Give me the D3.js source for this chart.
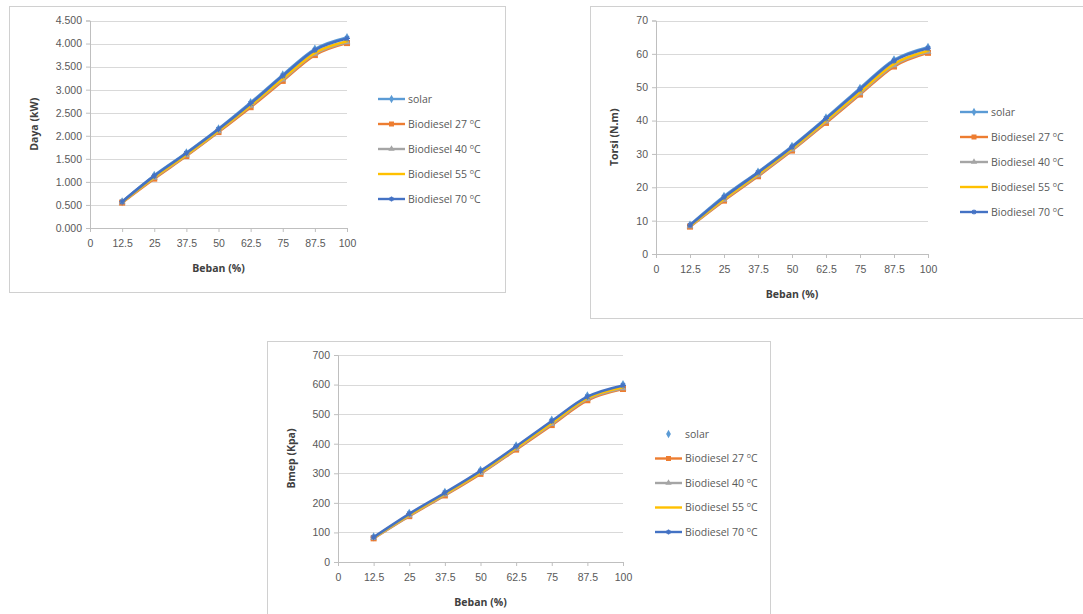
<!DOCTYPE html>
<html><head><meta charset="utf-8">
<script src="https://cdn.jsdelivr.net/npm/d3@7"></script>
<style>body{margin:0;background:#fff;}svg{display:block;font-family:"Open Sans","Liberation Sans",sans-serif;}</style>
</head><body>
<svg id="c" width="1083" height="614"></svg>
<script>
const loads = [12.5, 25, 37.5, 50, 62.5, 75, 87.5, 100];
const xTicks = [0, 12.5, 25, 37.5, 50, 62.5, 75, 87.5, 100];
const seriesNames = ["solar", "Biodiesel 27", "Biodiesel 40", "Biodiesel 55", "Biodiesel 70"];

const dayaSolar = [0.57, 1.14, 1.63, 2.15, 2.72, 3.32, 3.88, 4.13];
const daya27 = [0.55, 1.07, 1.56, 2.08, 2.62, 3.19, 3.75, 4.01];
const daya40 = [0.56, 1.09, 1.58, 2.10, 2.65, 3.22, 3.78, 4.03];
const daya55 = [0.56, 1.10, 1.59, 2.11, 2.66, 3.24, 3.80, 4.05];
const daya70 = [0.57, 1.13, 1.62, 2.14, 2.70, 3.30, 3.86, 4.11];
const dayaTicks = [0, 0.5, 1, 1.5, 2, 2.5, 3, 3.5, 4, 4.5];

const torsiSolar = [8.7, 17.3, 24.6, 32.3, 40.8, 49.7, 58.2, 62.0];
const torsi27 = [8.2, 16.0, 23.3, 31.0, 39.3, 47.8, 56.2, 60.3];
const torsi40 = [8.3, 16.3, 23.6, 31.3, 39.7, 48.2, 56.6, 60.6];
const torsi55 = [8.4, 16.5, 23.9, 31.6, 40.0, 48.6, 57.0, 60.9];
const torsi70 = [8.6, 17.0, 24.4, 32.1, 40.6, 49.4, 57.9, 61.7];
const torsiTicks = [0, 10, 20, 30, 40, 50, 60, 70];

const bmepSolar = [85, 165, 236, 310, 393, 480, 562, 600];
const bmep27 = [80, 155, 225, 298, 380, 463, 547, 585];
const bmep40 = [81, 157, 228, 301, 383, 467, 551, 588];
const bmep55 = [82, 159, 230, 303, 386, 470, 554, 591];
const bmep70 = [84, 163, 234, 308, 391, 477, 559, 597];
const bmepTicks = [0, 100, 200, 300, 400, 500, 600, 700];

const colors = ["#5B9BD5", "#ED7D31", "#A5A5A5", "#FFC000", "#4472C4"];
const markers = ["diamond", "square", "triangle", "none", "star"];

const svg = d3.select("#c");

function marker(g, type, x, y, color, s) {
  if (type === "diamond") g.append("path").attr("d", d3.symbol(d3.symbolDiamond, s * 4)()).attr("transform", `translate(${x},${y})`).attr("fill", color);
  else if (type === "square") g.append("rect").attr("x", x - s / 2).attr("y", y - s / 2).attr("width", s).attr("height", s).attr("fill", color);
  else if (type === "triangle") g.append("path").attr("d", d3.symbol(d3.symbolTriangle, s * 3.5)()).attr("transform", `translate(${x},${y})`).attr("fill", color);
  else if (type === "star") {
    const r = s / 2;
    g.append("path").attr("d", `M${x-r},${y}H${x+r}M${x},${y-r}V${y+r}M${x-r*0.7},${y-r*0.7}L${x+r*0.7},${y+r*0.7}M${x-r*0.7},${y+r*0.7}L${x+r*0.7},${y-r*0.7}`)
      .attr("stroke", color).attr("stroke-width", 1.1);
  }
}

function chart(cfg) {
  const g = svg.append("g");
  g.append("rect").attr("x", cfg.box[0] + 0.5).attr("y", cfg.box[1] + 0.5).attr("width", cfg.box[2]).attr("height", cfg.box[3])
    .attr("fill", "#fff").attr("stroke", "#D0D0D0");
  const x = d3.scaleLinear().domain([0, 100]).range([cfg.x0, cfg.x1]);
  const y = d3.scaleLinear().domain([0, cfg.ticks[cfg.ticks.length - 1]]).range([cfg.y0, cfg.y1]);
  g.append("g").selectAll("line").data(cfg.ticks.slice(1)).join("line")
    .attr("x1", cfg.x0).attr("x2", cfg.x1).attr("y1", d => Math.round(y(d)) + 0.5).attr("y2", d => Math.round(y(d)) + 0.5)
    .attr("stroke", "#D9D9D9").attr("stroke-width", 1.2);
  const ya = g.append("g").attr("transform", `translate(${cfg.x0},0)`)
    .call(d3.axisLeft(y).tickValues(cfg.ticks).tickFormat(cfg.fmt).tickSize(4).tickPadding(4));
  ya.select(".domain").attr("stroke", "#BFBFBF");
  ya.selectAll(".tick line").attr("stroke", "#BFBFBF");
  ya.selectAll("text").attr("fill", "#595959").style("font-size", "10.5px");
  const xa = g.append("g").attr("transform", `translate(0,${cfg.y0})`)
    .call(d3.axisBottom(x).tickValues(xTicks).tickFormat(d3.format("")).tickSize(4).tickPadding(8));
  xa.select(".domain").attr("stroke", "#BFBFBF");
  xa.selectAll(".tick line").attr("stroke", "#BFBFBF");
  xa.selectAll("text").attr("fill", "#595959").style("font-size", "10.5px");
  g.append("text").attr("x", (cfg.x0 + cfg.x1) / 2).attr("y", cfg.y0 + 44).attr("text-anchor", "middle")
    .attr("fill", "#404040").style("font-size", "10.5px").style("font-weight", "bold").text("Beban (%)");
  g.append("text").attr("transform", `translate(${cfg.ylabX},${(cfg.y0 + cfg.y1) / 2}) rotate(-90)`).attr("text-anchor", "middle")
    .attr("fill", "#404040").style("font-size", "10.5px").style("font-weight", "bold").text(cfg.ylabel);
  const line = d3.line().x((d, i) => x(loads[i])).y(d => y(d)).curve(d3.curveMonotoneX);
  cfg.series.forEach((vals, si) => {
    const sg = g.append("g");
    if (!(si === 0 && cfg.solarNoLine)) {
      sg.append("path").attr("d", line(vals)).attr("fill", "none").attr("stroke", colors[si]).attr("stroke-width", 2.6)
        .attr("stroke-linejoin", "round").attr("stroke-linecap", "round");
    }
    vals.forEach((v, i) => marker(sg, markers[si], x(loads[i]), y(v), colors[si], 6));
  });
  seriesNames.forEach((name, si) => {
    const ly = cfg.legY + si * cfg.legStep;
    const lg = g.append("g");
    if (si === 0 && cfg.solarNoLine) {
      marker(lg, "diamond", (cfg.legX0 + cfg.legX1) / 2, ly, colors[0], 5);
    } else {
      lg.append("line").attr("x1", cfg.legX0).attr("x2", cfg.legX1).attr("y1", ly).attr("y2", ly)
        .attr("stroke", colors[si]).attr("stroke-width", 2.4);
      marker(lg, markers[si], (cfg.legX0 + cfg.legX1) / 2, ly, colors[si], 5);
    }
    const t = lg.append("text").attr("x", cfg.legX1 + 3).attr("y", ly + 3.8).attr("fill", "#595959").style("font-size", "10.5px");
    if (si === 0) t.text(name);
    else {
      t.append("tspan").text(name + " ");
      t.append("tspan").attr("dy", -4).style("font-size", "7px").text("o");
      t.append("tspan").attr("dy", 4).text("C");
    }
  });
}

chart({ box: [9, 6, 496, 286], x0: 90, x1: 347, y0: 228, y1: 20.5, ticks: dayaTicks, fmt: d3.format(".3f"),
  ylabel: "Daya (kW)", ylabX: 38, series: [dayaSolar, daya27, daya40, daya55, daya70],
  legX0: 378, legX1: 405, legY: 99, legStep: 25, solarNoLine: false });

chart({ box: [590, 6, 500, 312], x0: 656, x1: 928, y0: 254, y1: 20.5, ticks: torsiTicks, fmt: d3.format("d"),
  ylabel: "Torsi (N.m)", ylabX: 618, series: [torsiSolar, torsi27, torsi40, torsi55, torsi70],
  legX0: 960, legX1: 988, legY: 112, legStep: 25, solarNoLine: false });

chart({ box: [267, 341, 503, 290], x0: 338, x1: 623, y0: 562, y1: 355, ticks: bmepTicks, fmt: d3.format("d"),
  ylabel: "Bmep (Kpa)", ylabX: 295, series: [bmepSolar, bmep27, bmep40, bmep55, bmep70],
  legX0: 655, legX1: 682, legY: 434, legStep: 24.5, solarNoLine: true });
</script>
</body></html>
